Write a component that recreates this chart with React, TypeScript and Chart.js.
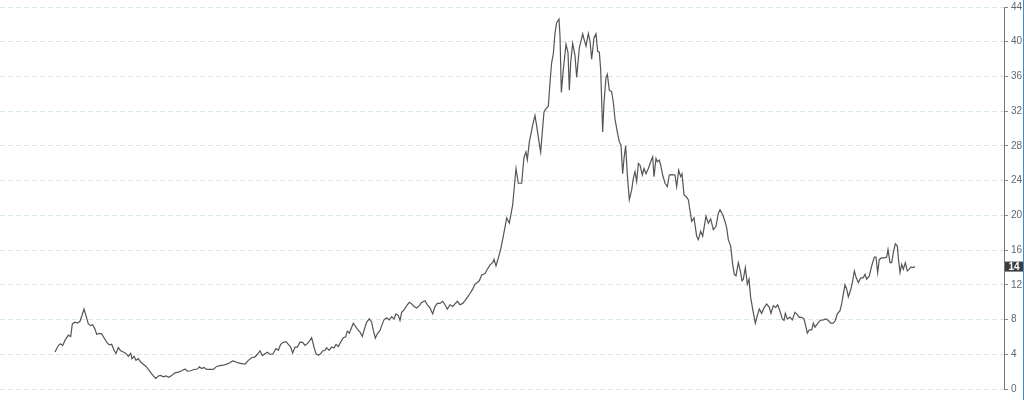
import { useEffect, useRef } from "react";
import { Chart, registerables } from "chart.js";

Chart.register(...registerables);

// time position of each close, in days from the first point
const days = [
  0, 10, 17, 23, 30, 40, 47, 52, 60, 67, 75, 81, 87, 93, 100, 107, 113, 120, 125, 133,
  140, 147, 155, 162, 170, 177, 183, 190, 197, 205, 213, 220, 227, 231, 237, 243, 250, 257, 265, 273,
  280, 288, 295, 302, 310, 317, 325, 333, 341, 350, 360, 370, 380, 390, 397, 407, 417, 427, 433, 440,
  447, 455, 465, 475, 485, 495, 505, 515, 523, 533, 540, 550, 560, 570, 580, 590, 600, 607, 615, 622,
  630, 637, 645, 653, 663, 670, 677, 685, 693, 700, 707, 713, 720, 727, 735, 743, 750, 757, 765, 770,
  777, 783, 790, 797, 803, 810, 815, 822, 830, 837, 843, 850, 857, 865, 872, 877, 883, 890, 895, 903,
  910, 915, 922, 927, 935, 943, 950, 955, 961, 967, 975, 982, 987, 995, 1003, 1010, 1017, 1023, 1030, 1035,
  1040, 1047, 1055, 1063, 1070, 1077, 1085, 1093, 1100, 1110, 1117, 1125, 1133, 1140, 1147, 1155, 1163, 1170, 1177, 1185,
  1193, 1200, 1207, 1215, 1223, 1230, 1237, 1245, 1253, 1260, 1267, 1273, 1280, 1290, 1297, 1305, 1313, 1317, 1323, 1330,
  1337, 1345, 1355, 1363, 1373, 1383, 1390, 1400, 1407, 1413, 1417, 1423, 1427, 1433, 1440, 1445, 1452, 1457, 1461, 1467,
  1473, 1480, 1485, 1490, 1495, 1500, 1505, 1512, 1515, 1519, 1525, 1533, 1539, 1543, 1547, 1553, 1560, 1565, 1573, 1577,
  1583, 1587, 1593, 1600, 1605, 1610, 1617, 1623, 1628, 1633, 1637, 1643, 1647, 1653, 1657, 1663, 1670, 1675, 1680, 1687,
  1693, 1698, 1703, 1707, 1712, 1717, 1723, 1730, 1735, 1740, 1745, 1750, 1755, 1762, 1767, 1773, 1780, 1787, 1793, 1797,
  1803, 1807, 1813, 1817, 1823, 1830, 1837, 1843, 1850, 1860, 1865, 1871, 1877, 1881, 1887, 1893, 1900, 1910, 1917, 1925,
  1930, 1937, 1943, 1953, 1960, 1967, 1975, 1983, 1990, 1995, 2003, 2010, 2015, 2020, 2027, 2033, 2038, 2043, 2050, 2057,
  2061, 2065, 2071, 2077, 2082, 2087, 2093, 2101, 2107, 2113, 2120, 2127, 2135, 2143, 2148, 2155, 2162, 2168, 2175, 2182,
  2187, 2191, 2197, 2205, 2212, 2220, 2227, 2233, 2240, 2247, 2253, 2257, 2263, 2270, 2275, 2280, 2287, 2295, 2305, 2313,
  2320, 2327, 2335, 2341, 2347, 2355, 2360, 2365, 2370, 2375, 2380, 2387, 2393, 2398, 2403, 2410, 2417, 2425, 2430, 2435,
  2443, 2450, 2458, 2463, 2468, 2473, 2480, 2490, 2495, 2499, 2505, 2510, 2515, 2521, 2527, 2530, 2535, 2540, 2545, 2551,
  2557, 2563, 2568, 2575, 2580,
];

const price = [
  4.26, 5.0, 5.2, 5.0, 5.6, 6.2, 6.05, 7.5, 7.7, 7.6, 7.8, 8.46, 9.2, 8.46, 7.5, 7.3, 7.4, 6.9, 6.3, 6.4,
  6.35, 5.9, 5.4, 5.1, 5.15, 4.46, 4.1, 4.77, 4.4, 4.26, 4.1, 3.77, 4.1, 3.5, 3.77, 3.3, 3.5, 3.1, 2.86, 2.6,
  2.25, 1.86, 1.5, 1.22, 1.5, 1.56, 1.4, 1.5, 1.34, 1.56, 1.86, 1.94, 2.1, 2.3, 2.06, 2.1, 2.25, 2.3, 2.55, 2.36,
  2.48, 2.25, 2.25, 2.25, 2.6, 2.7, 2.74, 2.86, 3.0, 3.23, 3.16, 3.0, 2.93, 2.86, 3.3, 3.6, 3.7, 4.0, 4.4, 3.85,
  4.07, 4.23, 4.0, 4.0, 4.65, 4.46, 5.14, 5.37, 5.45, 5.14, 4.83, 4.15, 4.83, 4.83, 5.4, 5.37, 5.03, 5.22, 5.6, 5.9,
  4.83, 4.07, 3.89, 4.07, 4.38, 4.46, 4.76, 4.46, 4.83, 4.72, 5.14, 4.9, 5.4, 5.9, 6.0, 6.66, 6.43, 7.12, 7.58, 7.12,
  6.74, 6.55, 6.06, 6.74, 7.7, 8.08, 7.7, 6.74, 5.86, 6.36, 6.74, 7.5, 7.96, 8.2, 7.96, 8.34, 8.08, 8.65, 8.46, 7.9,
  8.83, 9.1, 9.6, 9.98, 9.8, 9.5, 9.34, 9.6, 9.98, 10.17, 9.7, 9.34, 8.65, 9.5, 9.86, 9.86, 10.1, 9.7, 9.2, 9.7,
  9.5, 9.8, 10.1, 9.7, 9.86, 10.17, 10.55, 11.0, 11.5, 12.08, 12.26, 12.46, 13.14, 13.3, 13.8, 14.3, 14.55, 14.93, 14.17, 15.1,
  16.07, 17.6, 19.7, 19.1, 21.2, 25.4, 23.7, 23.7, 26.7, 27.3, 26.4, 28.46, 29.2, 30.4, 31.5, 30.3, 28.46, 27.3, 29.2, 31.9,
  32.3, 32.57, 35.3, 37.6, 38.6, 41.0, 42.2, 42.6, 40.65, 34.17, 36.8, 39.7, 38.74, 34.4, 37.6, 39.8, 38.4, 35.9, 39.3, 39.9,
  40.9, 40.3, 39.5, 40.95, 40.08, 37.98, 40.46, 40.9, 38.9, 38.8, 36.8, 29.6, 33.0, 35.9, 36.26, 34.4, 34.26, 33.0, 31.1, 29.6,
  28.46, 28.08, 24.8, 26.55, 28.0, 24.65, 21.8, 22.94, 24.26, 25.03, 23.9, 25.97, 25.8, 24.65, 25.4, 24.8, 25.4, 26.17, 26.74, 24.46,
  26.55, 26.17, 26.36, 25.8, 24.65, 23.7, 23.3, 24.65, 24.7, 24.65, 23.3, 25.2, 24.46, 24.8, 22.36, 22.17, 21.8, 19.3, 19.7, 17.6,
  17.2, 18.17, 17.6, 19.9, 19.1, 19.6, 18.36, 18.74, 20.26, 20.65, 20.07, 19.3, 18.55, 17.2, 16.46, 14.36, 13.2, 13.03, 14.55, 13.4,
  12.46, 12.65, 13.98, 12.08, 12.65, 10.55, 9.2, 7.58, 8.46, 9.2, 8.72, 9.34, 9.8, 9.4, 8.72, 9.6, 9.4, 9.7, 8.95, 8.08,
  7.9, 8.72, 8.08, 8.26, 7.96, 8.83, 8.57, 8.26, 8.26, 8.08, 7.12, 6.43, 6.82, 6.82, 7.58, 7.12, 7.5, 7.89, 7.96, 8.08,
  7.89, 7.58, 7.58, 7.89, 8.65, 9.03, 9.8, 10.93, 12.0, 11.5, 10.63, 11.4, 12.46, 13.6, 12.9, 12.26, 12.77, 12.83, 13.22, 12.65,
  13.03, 14.17, 15.2, 15.2, 13.4, 14.93, 15.1, 15.1, 15.2, 16.07, 14.55, 14.55, 15.7, 16.72, 16.46, 15.1, 13.4, 14.36, 13.8, 14.55,
  13.6, 13.8, 14.06, 13.98, 14.1,
];

const yMin = 0;
const yMax = 44;
const yStep = 4;
const dayMin = -165;
const dayMax = 2847;

const lastValueTag = {
  id: "lastValueTag",
  afterDraw(chart: Chart) {
    const { ctx, scales } = chart;
    const y = scales.y;
    const last = price[price.length - 1];
    const py = y.getPixelForValue(last);
    const x0 = y.left + 1;
    const w = chart.width - x0;
    ctx.save();
    ctx.fillStyle = "#3d3d3d";
    ctx.fillRect(x0, py - 5, w, 10);
    ctx.fillStyle = "#ffffff";
    ctx.font = "bold 10px 'Liberation Sans', Arial, sans-serif";
    ctx.textAlign = "center";
    ctx.textBaseline = "middle";
    ctx.fillText(String(Math.round(last)), x0 + w / 2, py + 0.5);
    ctx.restore();
  },
};

export default function App() {
  const canvasRef = useRef<HTMLCanvasElement>(null);
  const chartRef = useRef<Chart | null>(null);

  useEffect(() => {
    if (!canvasRef.current) return;
    if (chartRef.current) chartRef.current.destroy();

    chartRef.current = new Chart(canvasRef.current, {
      type: "line",
      data: {
        datasets: [
          {
            data: days.map((d, i) => ({ x: d, y: price[i] })),
            borderColor: "#555555",
            borderWidth: 1.2,
            pointRadius: 0,
            tension: 0,
            fill: false,
          },
        ],
      },
      options: {
        animation: false,
        responsive: true,
        maintainAspectRatio: false,
        layout: { padding: { top: 4, bottom: 11, left: 0, right: 0 } },
        plugins: {
          legend: { display: false },
          tooltip: { enabled: false },
        },
        scales: {
          x: {
            type: "linear",
            display: false,
            min: dayMin,
            max: dayMax,
          },
          y: {
            position: "right",
            min: yMin,
            max: yMax,
            afterFit: (scale) => {
              scale.width = 19;
            },
            ticks: {
              stepSize: yStep,
              padding: 3,
              color: "#666666",
              font: { family: "'Liberation Sans', Arial, sans-serif", size: 10, lineHeight: 0.8 },
            },
            grid: {
              color: "#d6e8e8",
              lineWidth: 1,
              tickLength: 4,
              tickColor: "#888888",
            },
            border: {
              display: true,
              color: "#777777",
              width: 1,
              dash: [5, 3],
            },
          },
        },
      },
      plugins: [lastValueTag],
    });

    return () => {
      if (chartRef.current) {
        chartRef.current.destroy();
        chartRef.current = null;
      }
    };
  }, []);

  return (
    <div
      style={{
        position: "fixed",
        left: 0,
        top: 0,
        width: 1024,
        height: 400,
        boxSizing: "border-box",
        borderRight: "1px solid #3f8ccb",
        background: "#ffffff",
      }}
    >
      <canvas ref={canvasRef}></canvas>
    </div>
  );
}
